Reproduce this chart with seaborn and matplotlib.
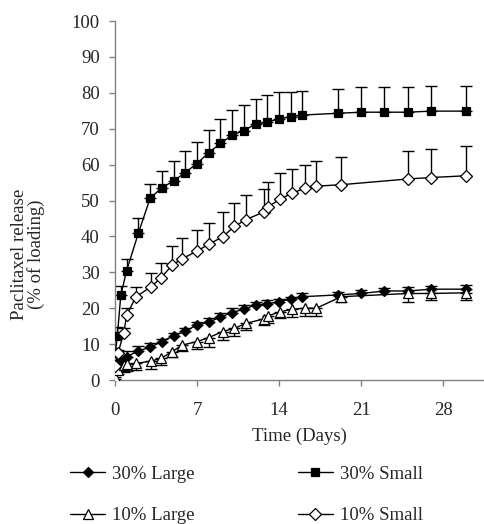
import numpy as np
import pandas as pd
import seaborn as sns
import matplotlib.pyplot as plt

# sampling times (days)
t30 = [0.04, 0.2, 0.5, 1, 2, 3, 4, 5, 6, 7, 8, 9, 10, 11, 12, 13, 14, 15, 16,
       19, 21, 23, 25, 27, 30]
t10 = [0.04, 0.25, 0.75, 1, 1.8, 3.1, 3.9, 4.9, 5.7, 7, 8, 9.2, 10.2, 11.2,
       12.7, 13.1, 14.1, 15.1, 16.2, 17.2, 19.3, 25, 27, 30]

# release values (% of loading)
large30 = [3.9, 4.5, 5.1, 6.5, 8.1, 9.1, 10.7, 12.3, 13.6, 15.3, 16.1, 17.5, 18.8,
           19.7, 20.9, 21.2, 21.8, 22.6, 23.2, 23.7, 24.1, 24.8, 24.8, 25.3, 25.3]
large30_err = [0.3, 0.5, 0.8, 1.5, 1.4, 1.3, 0.7, 0.7, 0.8, 0.8, 1.1, 1.1, 1.2,
               1.2, 0.9, 1.1, 0.9, 0.6, 0.9, 0.9, 1.0, 0.8, 1.0, 0.9, 1.2]
small30 = [7.6, 12.2, 23.6, 30.5, 40.9, 50.6, 53.6, 55.4, 57.8, 60.3, 63.3, 65.9, 68.2,
           69.5, 71.3, 71.9, 72.7, 73.4, 73.8, 74.3, 74.6, 74.6, 74.6, 74.9, 74.9]
small30_err = [1.0, 2.5, 2.6, 3.2, 4.1, 3.9, 4.7, 5.5, 6.1, 6.1, 6.3, 6.7, 7.0,
               7.0, 7.0, 7.5, 7.5, 6.8, 6.8, 6.9, 6.9, 6.9, 6.9, 7.0, 7.0]
large10 = [0.9, 2.8, 4.2, 4.4, 4.6, 5.3, 6.0, 7.9, 9.7, 10.7, 11.8, 13.5, 14.4, 15.8,
           17.0, 17.9, 19.0, 19.7, 20.0, 20.0, 23.2, 24.1, 24.1, 24.3]
large10_err = [0.5, 1.0, 1.9, 1.8, 1.8, 2.1, 1.8, 1.4, 1.5, 2.2, 2.5, 2.4, 2.1, 1.9,
               1.7, 2.1, 1.6, 2.1, 2.2, 2.2, 1.6, 2.3, 1.8, 2.0]
small10 = [3.9, 7.4, 13.0, 18.1, 23.2, 26.0, 28.4, 32.0, 33.7, 35.9, 37.8, 39.9, 42.8,
           44.7, 46.8, 48.3, 50.4, 52.0, 53.4, 54.0, 54.4, 56.0, 56.4, 56.9]
small10_err = [0.5, 1.0, 1.5, 2.0, 2.8, 3.9, 4.3, 5.3, 5.9, 5.9, 6.0, 6.9, 6.6, 6.7,
               6.5, 6.9, 7.3, 6.7, 6.4, 6.9, 7.6, 7.9, 8.0, 8.3]

sns.set_style("white")
plt.rcParams["font.family"] = ["Liberation Serif", "DejaVu Serif"]
FS = 13.5

fig = plt.figure(figsize=(4.85, 5.24), dpi=100)
ax = fig.add_axes([0.237, 0.2748, 0.761, 0.6851])

series = [
    ("30% Large", t30, large30, large30_err, "D", "black", 5.5, "up"),
    ("30% Small", t30, small30, small30_err, "s", "black", 6, "up"),
    ("10% Large", t10, large10, large10_err, "^", "white", 7, "down"),
    ("10% Small", t10, small10, small10_err, "D", "white", 6, "up"),
]

for label, t, y, e, mk, fc, ms, side in series:
    e = np.array(e)
    z = np.zeros_like(e)
    yerr = [z, e] if side == "up" else [e, z]
    ax.errorbar(t, y, yerr=yerr, fmt="none", ecolor="black", elinewidth=1.0,
                capsize=4.5, capthick=1.0, zorder=2)
    df = pd.DataFrame({"t": t, "y": y})
    sns.lineplot(data=df, x="t", y="y", ax=ax, color="black", lw=1.0,
                 marker=mk, markersize=ms, markerfacecolor=fc,
                 markeredgecolor="black", markeredgewidth=0.9, label=label,
                 zorder=3)

ax.set_xlim(0, 31.5)
ax.set_ylim(0, 100)
ax.set_xticks([0, 7, 14, 21, 28])
ax.set_yticks(range(0, 101, 10))
ax.set_xlabel("Time (Days)", fontsize=FS, labelpad=6)
ax.set_ylabel("Paclitaxel release\n(% of loading)", fontsize=FS, linespacing=0.95)
ax.yaxis.set_label_coords(-0.19, 0.35)
for s in ["top", "right"]:
    ax.spines[s].set_visible(False)
for s in ["left", "bottom"]:
    ax.spines[s].set_color("#808080")
    ax.spines[s].set_linewidth(1.0)
ax.tick_params(axis="both", direction="out", length=4, width=1.0,
               color="#808080", labelsize=FS, bottom=True, left=True)
ax.tick_params(axis="x", pad=12)
ax.tick_params(axis="y", pad=7)

handles, labels = ax.get_legend_handles_labels()
ax.get_legend().remove()
order = [0, 2, 1, 3]
fig.legend([handles[i] for i in order], [labels[i] for i in order], ncol=2,
           loc="lower left", bbox_to_anchor=(0.109, -0.033),
           frameon=False, fontsize=FS, handlelength=1.9, columnspacing=5.5,
           labelspacing=1.3, handletextpad=0.35)

fig.savefig("out.png", dpi=100)
